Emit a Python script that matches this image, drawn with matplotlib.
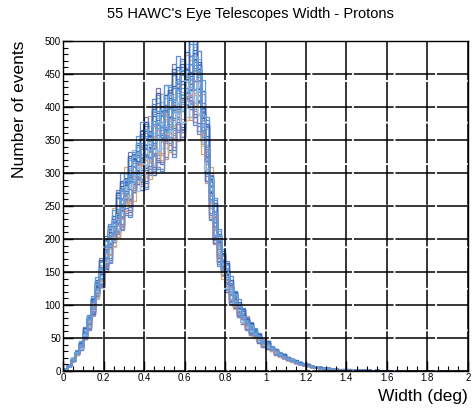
import numpy as np
import matplotlib
matplotlib.use("Agg")
import matplotlib.pyplot as plt
from matplotlib.ticker import MultipleLocator

# ---- data ----
bin_lo, bin_hi, n_bins = 0.0, 2.0, 100

# typical per-bin counts (bins of 0.02 deg)
base_counts = [
    3, 8, 17, 27, 38, 55, 75, 98, 122, 148,
    172, 195, 215, 235, 252, 268, 282, 295, 308, 320,
    330, 340, 350, 358, 366, 375, 383, 392, 402, 414,
    430, 445, 445, 420, 385, 330, 270, 220, 185, 160,
    140, 122, 106, 93, 82, 72, 63, 56, 49, 43,
    38, 33, 29, 25, 22, 19, 16, 14, 12, 10,
    9, 7, 6, 5, 4, 4, 3, 3, 2, 2,
    2, 1, 1, 1, 1, 1, 0, 1, 0, 0,
    0, 0, 0, 0, 0, 0, 0, 0, 0, 0,
    0, 0, 0, 0, 0, 0, 0, 0, 0, 0,
]

# per-telescope normalisation (55 telescopes)
telescope_scale = [
    1.03, 0.96, 1.07, 0.92, 1.00, 1.10, 0.95, 1.04, 0.90, 1.01,
    0.98, 1.08, 0.93, 1.05, 0.97, 1.12, 0.91, 1.03, 0.96, 1.00,
    1.09, 0.94, 1.04, 0.89, 1.06, 0.98, 1.01, 0.92, 1.05, 0.97,
    1.08, 0.93, 1.02, 0.96, 1.11, 1.00, 0.91, 1.04, 0.97, 1.07,
    0.94, 1.01, 0.99, 1.09, 0.92, 1.03, 0.96, 1.05, 0.93, 1.00,
    1.10, 0.97, 1.04, 0.90, 1.02,
]

# bin-to-bin fluctuations in percent (first 60 bins), five patterns
fluct_a = [5, -3, 4, -6, 2, 7, -4, 1, -5, 3, 6, -2, -7, 4, 1, -3, 5, -1, -6, 2,
           4, -5, 3, 7, -2, -4, 1, 6, -3, 2, -5, 4, 8, -1, -6, 3, -2, 5, -4, 1,
           6, -3, 2, -7, 4, -1, 5, -6, 3, -2, 7, -4, 1, -5, 6, -3, 2, -1, 4, -6]
fluct_b = [-4, 6, -2, 3, -7, 1, 5, -3, 2, -6, -1, 4, 6, -5, 2, 7, -3, 1, 4, -6,
           -2, 5, -7, -3, 6, 2, -4, -1, 5, -6, 3, -2, -5, 7, 1, -4, 6, -3, 2, 5,
           -6, 4, -1, 3, -5, 7, -2, 4, -6, 1, -3, 5, -7, 2, -4, 6, -1, 3, -5, 2]
fluct_c = [2, -6, 7, 1, -4, -3, 6, -7, 4, 1, -5, 7, 2, -3, -6, 4, -1, 6, 3, -4,
           7, 2, -6, 1, 4, -7, 5, -2, -6, 6, 1, -7, 3, 5, -3, -6, 4, -5, 7, -2,
           3, -5, 6, 1, -2, -4, 7, -3, 2, 5, -6, 1, 4, -2, -5, 3, 6, -4, 1, 3]
fluct_d = [-6, 1, -4, 7, 5, -2, -6, 3, 7, -4, 2, -6, 4, 6, -5, -1, -7, 3, 6, 1,
           -6, -2, 5, -4, -7, 6, 3, -7, 1, -5, 7, 2, -6, -4, 5, 7, -5, 1, -3, 6,
           2, -7, 5, -2, 6, -4, -3, 7, -1, -5, 2, 6, -3, 4, 1, -6, 5, -2, -3, 4]
fluct_e = [3, 4, -7, -2, 6, -5, 2, 5, -1, -7, 4, 3, -4, -6, 7, -2, 3, -5, 1, 6,
           -3, -7, 6, 2, -5, 4, -6, 3, 7, -1, -4, -6, 2, 4, -7, 1, -6, 7, 5, -5,
           -2, 6, -4, 5, -3, 2, -7, 1, 6, -3, 4, -2, 5, -6, 3, -1, -4, 6, -2, -3]
fluct_patterns = [fluct_a, fluct_b, fluct_c, fluct_d, fluct_e]

line_colors = ['#d8a870', '#5b8fd6', '#88bde8', '#4a78c8', '#7a7ab8', '#c89090',
               '#3a66b8', '#a0c8e8', '#6fa8dc', '#8888c0', '#5a9ad8']

x_tick_labels = ['0', '0.2', '0.4', '0.6', '0.8', '1', '1.2', '1.4', '1.6', '1.8', '2']
y_ticks = [0, 50, 100, 150, 200, 250, 300, 350, 400, 450, 500]

title = "55 HAWC's Eye Telescopes Width - Protons"

# ---- figure ----
plt.rcParams['font.family'] = ['Liberation Sans', 'DejaVu Sans']
fig = plt.figure(figsize=(4.72, 4.09), dpi=100)
ax = fig.add_axes([0.1335, 0.093, 0.858, 0.807])

edges = np.linspace(bin_lo, bin_hi, n_bins + 1)
base = np.array(base_counts, dtype=float)
for i, s in enumerate(telescope_scale):
    f = np.zeros(n_bins)
    pat = fluct_patterns[i % len(fluct_patterns)]
    f[:len(pat)] = pat
    vals = base * s * (1 + f / 100.0)
    ax.stairs(vals, edges, color=line_colors[i % len(line_colors)], lw=0.9,
              baseline=0)

ax.set_xlim(0, 2)
ax.set_ylim(0, 500)
ax.set_xticks(np.linspace(0, 2, len(x_tick_labels)))
ax.set_xticklabels(x_tick_labels)
ax.set_yticks(y_ticks)
ax.xaxis.set_minor_locator(MultipleLocator(0.05))
ax.yaxis.set_minor_locator(MultipleLocator(10))
ax.tick_params(which='major', direction='in', length=7, width=1.0,
               labelsize=7, pad=1.5, top=False, right=False)
ax.tick_params(which='minor', direction='in', length=3.5, width=0.8,
               top=False, right=False)
ax.grid(True, which='major', color='black', lw=1.1, ls=(0, (26, 1.2)))
ax.set_axisbelow(False)
for sp in ax.spines.values():
    sp.set_linewidth(1.0)

fig.text(0.53, 0.966, title, ha='center', va='center', fontsize=10.5)
ax.set_ylabel('Number of events', fontsize=12.5, loc='top', labelpad=13)
ax.set_xlabel('Width (deg)', fontsize=12.5, loc='right', labelpad=4)

fig.savefig('out.png', dpi=100)
